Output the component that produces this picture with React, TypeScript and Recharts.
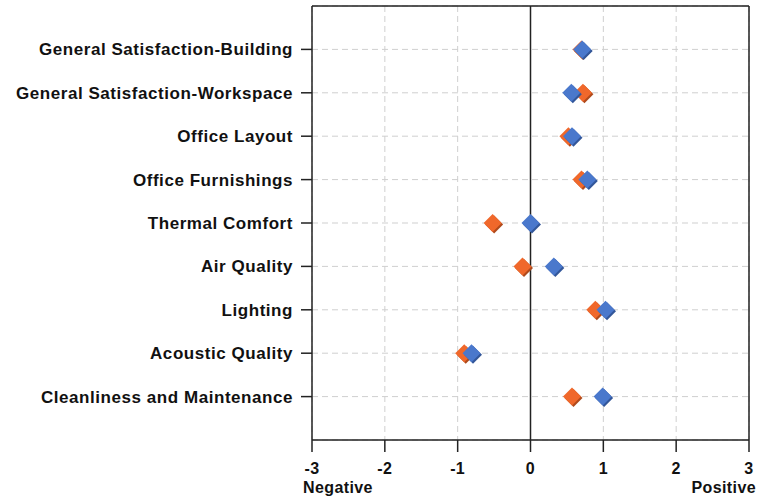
import React from 'react';
import { ScatterChart, Scatter, XAxis, YAxis, CartesianGrid, ReferenceLine } from 'recharts';

const categories = [
    'General Satisfaction-Building',
    'General Satisfaction-Workspace',
    'Office Layout',
    'Office Furnishings',
    'Thermal Comfort',
    'Air Quality',
    'Lighting',
    'Acoustic Quality',
    'Cleanliness and Maintenance',
];

const orangeValues = [0.7, 0.72, 0.52, 0.7, -0.52, -0.11, 0.89, -0.91, 0.57];
const blueValues = [0.71, 0.56, 0.57, 0.78, 0.0, 0.32, 1.03, -0.81, 0.99];

const xTicks = [-3, -2, -1, 0, 1, 2, 3];
const yTicks = [1, 2, 3, 4, 5, 6, 7, 8, 9];

const orangeData = orangeValues.map((v, i) => ({ x: v, y: i + 1 }));
const blueData = blueValues.map((v, i) => ({ x: v, y: i + 1 }));

const FONT = '"Liberation Sans", Arial, sans-serif';

const makeDiamond = (fill: string, shadow: string) => (props: any) => {
    const { cx, cy } = props;
    const r = 9;
    const pts = (dx: number, dy: number) =>
        `${cx + dx},${cy + dy - r} ${cx + dx + r},${cy + dy} ${cx + dx},${cy + dy + r} ${cx + dx - r},${cy + dy}`;
    return (
        <g>
            <polygon points={pts(1.5, 1.5)} fill={shadow} />
            <polygon points={pts(0, 0)} fill={fill} />
        </g>
    );
};

const XTick = (props: any) => {
    const { x, y, payload } = props;
    const txt = { fontFamily: FONT, fontWeight: 'bold', fontSize: 16, letterSpacing: 0.4, fill: '#111' } as const;
    return (
        <g>
            <text x={x} y={y} dy="0.71em" textAnchor="middle" {...txt}>
                {payload.value}
            </text>
            {payload.value === -3 && (
                <text x={x - 9} y={y + 19} dy="0.71em" textAnchor="start" {...txt}>
                    Negative
                </text>
            )}
            {payload.value === 3 && (
                <text x={x + 7} y={y + 19} dy="0.71em" textAnchor="end" {...txt}>
                    Positive
                </text>
            )}
        </g>
    );
};

const App: React.FC = () => {
    return (
        <div style={{ position: 'absolute', left: 0, top: 0, background: '#fff' }}>
            <ScatterChart width={761} height={502} margin={{ top: 6, right: 12, bottom: 0, left: 0 }}>
                <CartesianGrid strokeDasharray="6 4" stroke="#cfcfcf" />
                <XAxis
                    type="number"
                    dataKey="x"
                    domain={[-3, 3]}
                    ticks={xTicks}
                    interval={0}
                    height={62}
                    tickSize={12}
                    tickMargin={11}
                    stroke="#222"
                    strokeWidth={1.5}
                    tick={<XTick />}
                />
                <YAxis
                    type="number"
                    dataKey="y"
                    domain={[0, 10]}
                    ticks={yTicks}
                    interval={0}
                    reversed
                    width={312}
                    tickSize={11}
                    tickMargin={8}
                    stroke="#222"
                    strokeWidth={1.5}
                    tickFormatter={(v: number) => categories[v - 1] ?? ''}
                    tick={{ fontFamily: FONT, fontWeight: 'bold', fontSize: 17, letterSpacing: 0.55, fill: '#111' }}
                />
                <ReferenceLine x={0} stroke="#222" strokeWidth={1.5} />
                <ReferenceLine x={3} stroke="#222" strokeWidth={1.5} />
                <ReferenceLine y={0} stroke="#222" strokeWidth={1.5} />
                <Scatter data={orangeData} shape={makeDiamond('#f0682b', '#b04a1c')} isAnimationActive={false} />
                <Scatter data={blueData} shape={makeDiamond('#4a78cc', '#33579a')} isAnimationActive={false} />
            </ScatterChart>
        </div>
    );
};

export default App;
